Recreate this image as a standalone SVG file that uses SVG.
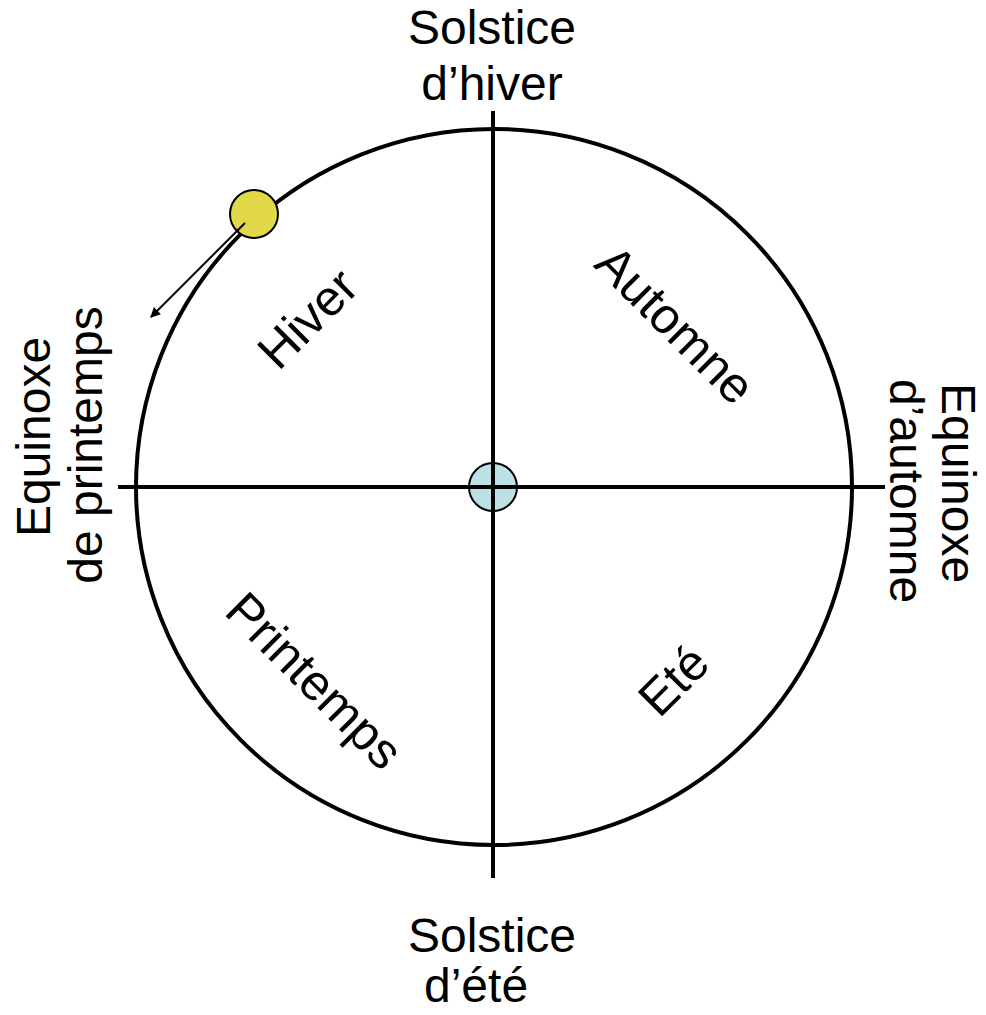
<svg xmlns="http://www.w3.org/2000/svg" width="986" height="1015" viewBox="0 0 986 1015">
<style>
text{font-family:"Liberation Sans",Arial,sans-serif;font-size:48px;fill:#000}
.c{text-anchor:middle}
.s{font-size:50px}
.ln{stroke:#000;stroke-width:4;fill:none}
</style>
<defs>
<marker id="ah" viewBox="0 0 10 10" refX="9" refY="5" markerWidth="11" markerHeight="10" markerUnits="userSpaceOnUse" orient="auto">
<path d="M0,0 L10,5 L0,10 z" fill="#000"/>
</marker>
</defs>
<rect width="986" height="1015" fill="#fff"/>
<g id="connectors">
<circle class="ln" cx="494" cy="487" r="358"/>
<line class="ln" x1="118" y1="487" x2="885" y2="487"/>
<line class="ln" x1="493" y1="111" x2="493" y2="878"/>
</g>
<g id="earth"><circle cx="493" cy="487" r="24" fill="#bde0e4" stroke="#000" stroke-width="2"/>
<line class="ln" x1="469" y1="487" x2="517" y2="487"/><line class="ln" x1="493" y1="463" x2="493" y2="511"/></g>
<g id="sun"><circle cx="254" cy="214" r="24" fill="#e1d84a" stroke="#000" stroke-width="2"/></g>
<g id="arrow"><line x1="245" y1="223" x2="151" y2="317" stroke="#000" stroke-width="2" marker-end="url(#ah)"/></g>
<g id="solstice-hiver"><text class="c" x="492" y="44">Solstice</text><text class="c" x="492" y="100">d’hiver</text></g>
<g id="solstice-ete"><text class="c" x="492" y="952">Solstice</text><text x="424" y="1002">d’été</text></g>
<g id="equinoxe-printemps"><text class="c" transform="translate(50,437) rotate(-90)">Equinoxe</text><text class="c" transform="translate(102,445) rotate(-90)">de printemps</text></g>
<g id="equinoxe-automne"><text class="c" transform="translate(942,483) rotate(90)">Equinoxe</text><text class="c" transform="translate(890,491) rotate(90)">d’automne</text></g>
<g id="hiver"><text class="c s" transform="translate(307,318) rotate(-45)" y="18">Hiver</text></g>
<g id="automne"><text class="c s" transform="translate(676,324) rotate(45)" y="18">Automne</text></g>
<g id="printemps"><text class="c s" transform="translate(315,680) rotate(45)" y="18">Printemps</text></g>
<g id="ete"><text class="c s" transform="translate(673,680) rotate(-45)" y="18">Eté</text></g>
</svg>
